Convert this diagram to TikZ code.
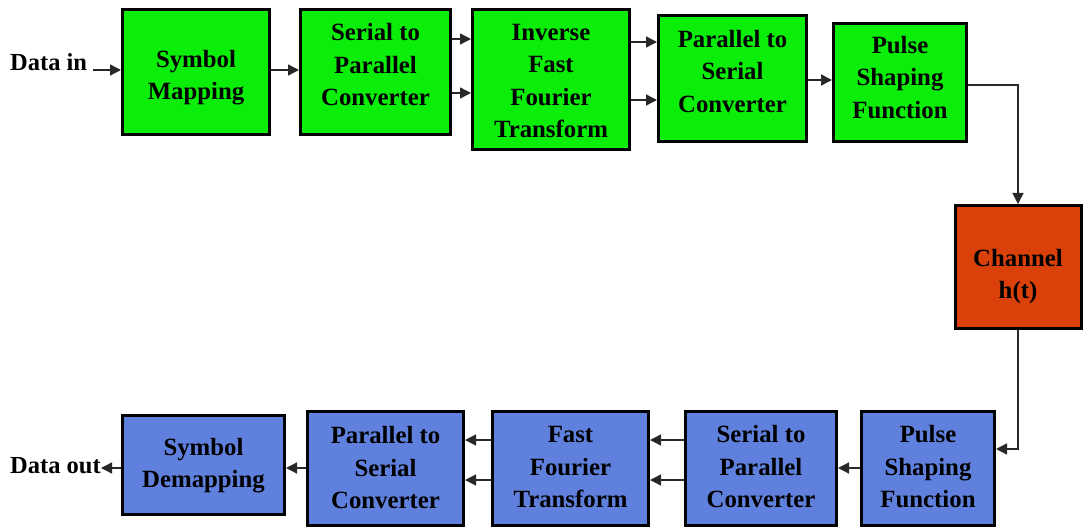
\documentclass[tikz,border=0pt]{standalone}
\usepackage{fontspec}
\setmainfont{Liberation Serif}
\usetikzlibrary{arrows.meta}
\definecolor{boxgreen}{RGB}{10,238,10}
\definecolor{boxblue}{RGB}{96,128,221}
\definecolor{boxred}{RGB}{218,64,10}
\definecolor{linegray}{RGB}{40,40,40}
\newcommand{\mylines}[2]{\raisebox{#1}[\height][\depth]{\begin{tabular}{@{}c@{}}#2\end{tabular}}}
\tikzset{
  blk/.style={draw=black, line width=3pt, align=center, inner sep=0pt,
    font=\fontsize{24.8}{32.5}\selectfont\bfseries},
  gblk/.style={blk, fill=boxgreen},
  bblk/.style={blk, fill=boxblue},
  rblk/.style={blk, fill=boxred},
  arr/.style={draw=linegray, line width=1.4pt, -{Triangle[length=11pt,width=11pt]}},
  lbl/.style={font=\fontsize{24.5}{28}\selectfont\bfseries, inner sep=0pt}
}
\begin{document}
\begin{tikzpicture}[x=1pt,y=-1pt]
\useasboundingbox (0,0) rectangle (1083,529);
% top row
\node[gblk, minimum width=147pt, minimum height=125pt] (sm) at (196,72) {\mylines{-5pt}{Symbol\\Mapping}};
\node[gblk, minimum width=150pt, minimum height=125pt] (sp) at (375.5,72) {\mylines{5pt}{Serial to\\Parallel\\Converter}};
\node[gblk, minimum width=157pt, minimum height=140pt] (ifft) at (551,79.5) {\mylines{-3pt}{Inverse\\Fast\\Fourier\\Transform}};
\node[gblk, minimum width=148pt, minimum height=126pt] (ps) at (732.5,78.5) {\mylines{5pt}{Parallel to\\Serial\\Converter}};
\node[gblk, minimum width=133pt, minimum height=118pt] (pulse) at (900,82.5) {\mylines{3pt}{Pulse\\Shaping\\Function}};
% channel
\node[rblk, minimum width=126pt, minimum height=123pt] (ch) at (1018,267) {\mylines{-9pt}{Channel\\h(t)}};
% bottom row
\node[bblk, minimum width=133pt, minimum height=114pt] (bpulse) at (928,468.5) {\mylines{0pt}{Pulse\\Shaping\\Function}};
\node[bblk, minimum width=151pt, minimum height=114pt] (bsp) at (761,468.5) {\mylines{0pt}{Serial to\\Parallel\\Converter}};
\node[bblk, minimum width=156pt, minimum height=114pt] (fft) at (570.5,468.5) {\mylines{0pt}{Fast\\Fourier\\Transform}};
\node[bblk, minimum width=156pt, minimum height=114pt] (bps) at (385.5,468.5) {\mylines{-1pt}{Parallel to\\Serial\\Converter}};
\node[bblk, minimum width=162pt, minimum height=99pt] (sd) at (203.5,465) {\mylines{0pt}{Symbol\\Demapping}};
% labels
\node[lbl, anchor=base west] (din) at (10,71) {Data in};
\node[lbl, anchor=base west] (dout) at (10,473) {Data out};
\coordinate (dinA) at (93,70);
\coordinate (doutA) at (101,468);
% connectors top
\draw[arr] (dinA) -- (dinA -| sm.west);
\draw[arr] (sm.east |- 0,70) -- (sp.west |- 0,70);
\draw[arr] (sp.east |- 0,39) -- (ifft.west |- 0,39);
\draw[arr] (sp.east |- 0,93) -- (ifft.west |- 0,93);
\draw[arr] (ifft.east |- 0,42) -- (ps.west |- 0,42);
\draw[arr] (ifft.east |- 0,100) -- (ps.west |- 0,100);
\draw[arr] (ps.east |- 0,80) -- (pulse.west |- 0,80);
\draw[arr] (pulse.east |- 0,85) -| (ch.north);
\draw[arr] (ch.south) |- (bpulse.east |- 0,449);
% connectors bottom
\draw[arr] (bpulse.west |- 0,468) -- (bsp.east |- 0,468);
\draw[arr] (bsp.west |- 0,440) -- (fft.east |- 0,440);
\draw[arr] (bsp.west |- 0,480) -- (fft.east |- 0,480);
\draw[arr] (fft.west |- 0,440) -- (bps.east |- 0,440);
\draw[arr] (fft.west |- 0,480) -- (bps.east |- 0,480);
\draw[arr] (bps.west |- 0,468) -- (sd.east |- 0,468);
\draw[arr] (sd.west |- 0,468) -- (doutA);
\end{tikzpicture}
\end{document}
